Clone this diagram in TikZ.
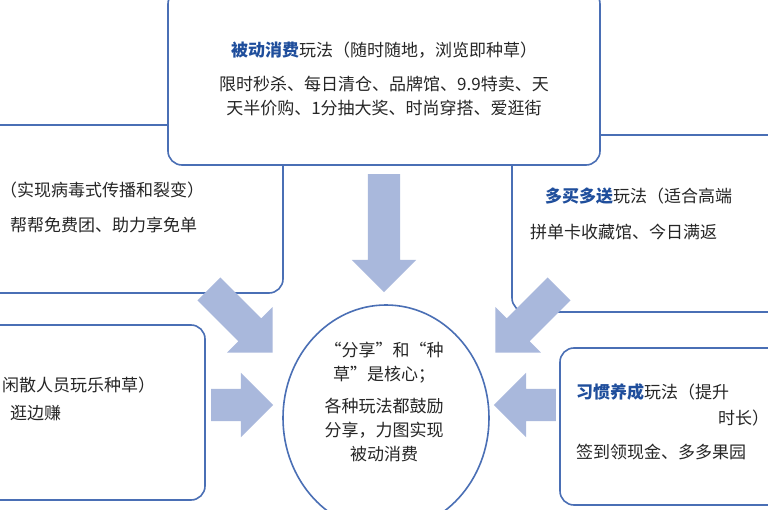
\documentclass[tikz,border=0pt]{standalone}
\usepackage{fontspec}
\newfontfamily\cjk{Noto Sans CJK SC}
\usetikzlibrary{shapes.geometric,shapes.arrows}
\definecolor{boxline}{HTML}{4A6FB5}
\definecolor{arrowfill}{HTML}{A9B8DC}
\definecolor{keyblue}{HTML}{1F4E9C}
\tikzset{
  playbox/.style={draw=boxline, line width=1.6pt, rounded corners=14pt, fill=white},
  bigarrow/.style={single arrow, fill=arrowfill, draw=none, minimum width=64pt,
    single arrow head extend=16pt, single arrow tip angle=90,
    inner xsep=0pt, inner ysep=16pt},
  txt/.style={inner sep=0pt, font=\cjk\fontsize{17}{24}\selectfont, text=black!85}
}
\newcommand\kw[1]{\textcolor{keyblue}{\textbf{#1}}}
\begin{document}
\begin{tikzpicture}[x=1pt, y=-1pt]
  \useasboundingbox (0,0) rectangle (768,510);
  \clip (0,0) rectangle (768,510);
  \fill[white] (0,0) rectangle (768,510);

  % boxes
  \draw[playbox] (-20,125) rectangle (283,293);
  \draw[playbox] (-20,325) rectangle (205,500);
  \draw[playbox] (512,135) rectangle (790,312);
  \draw[playbox] (560,348) rectangle (790,505);
  \draw[playbox] (168,-10) rectangle (600,165);

  % arrows
  \node[bigarrow, minimum height=118pt, rotate=-90] (adown) at (384,225) {};
  \node[bigarrow, minimum height=90pt, rotate=-45] (aleft1) at (235,315) {};
  \node[bigarrow, minimum height=90pt, rotate=-135] (aright1) at (533,315) {};
  \node[bigarrow, minimum height=62pt] (aleft2) at (234,405) {};
  \node[bigarrow, minimum height=62pt, rotate=180] (aright2) at (533,405) {};

  % centre
  \node[ellipse, draw=boxline, line width=1.6pt, fill=white, minimum width=206pt, minimum height=226pt] (core) at (386,418) {};
  \node[txt, align=center] (coretxt) at (384,402) {“分享”和“种\\草”是核心；\\[8pt]各种玩法都鼓励\\分享，力图实现\\被动消费};

  % texts
  \node[txt] (toptitle) at (384,50) {\kw{被动消费}玩法（随时随地，浏览即种草）};
  \node[txt, align=center] (toplist) at (384,96) {限时秒杀、每日清仓、品牌馆、9.9特卖、天\\天半价购、1分抽大奖、时尚穿搭、爱逛街};
  \node[txt, anchor=west] (lttitle) at (0,190) {（实现病毒式传播和裂变）};
  \node[txt, anchor=west] (ltlist) at (10,225) {帮帮免费团、助力享免单};
  \node[txt, anchor=west] (rttitle) at (545,196) {\kw{多买多送}玩法（适合高端};
  \node[txt, anchor=west] (rtlist) at (530,232) {拼单卡收藏馆、今日满返};
  \node[txt, anchor=west] (lbtitle) at (2,385) {闲散人员玩乐种草）};
  \node[txt, anchor=west] (lblist) at (10,413) {逛边赚};
  \node[txt, anchor=west] (rbtitle) at (576,392) {\kw{习惯养成}玩法（提升};
  \node[txt, anchor=west] (rbtitle2) at (718,418) {时长）};
  \node[txt, anchor=west] (rblist) at (576,452) {签到领现金、多多果园};
\end{tikzpicture}
\end{document}
